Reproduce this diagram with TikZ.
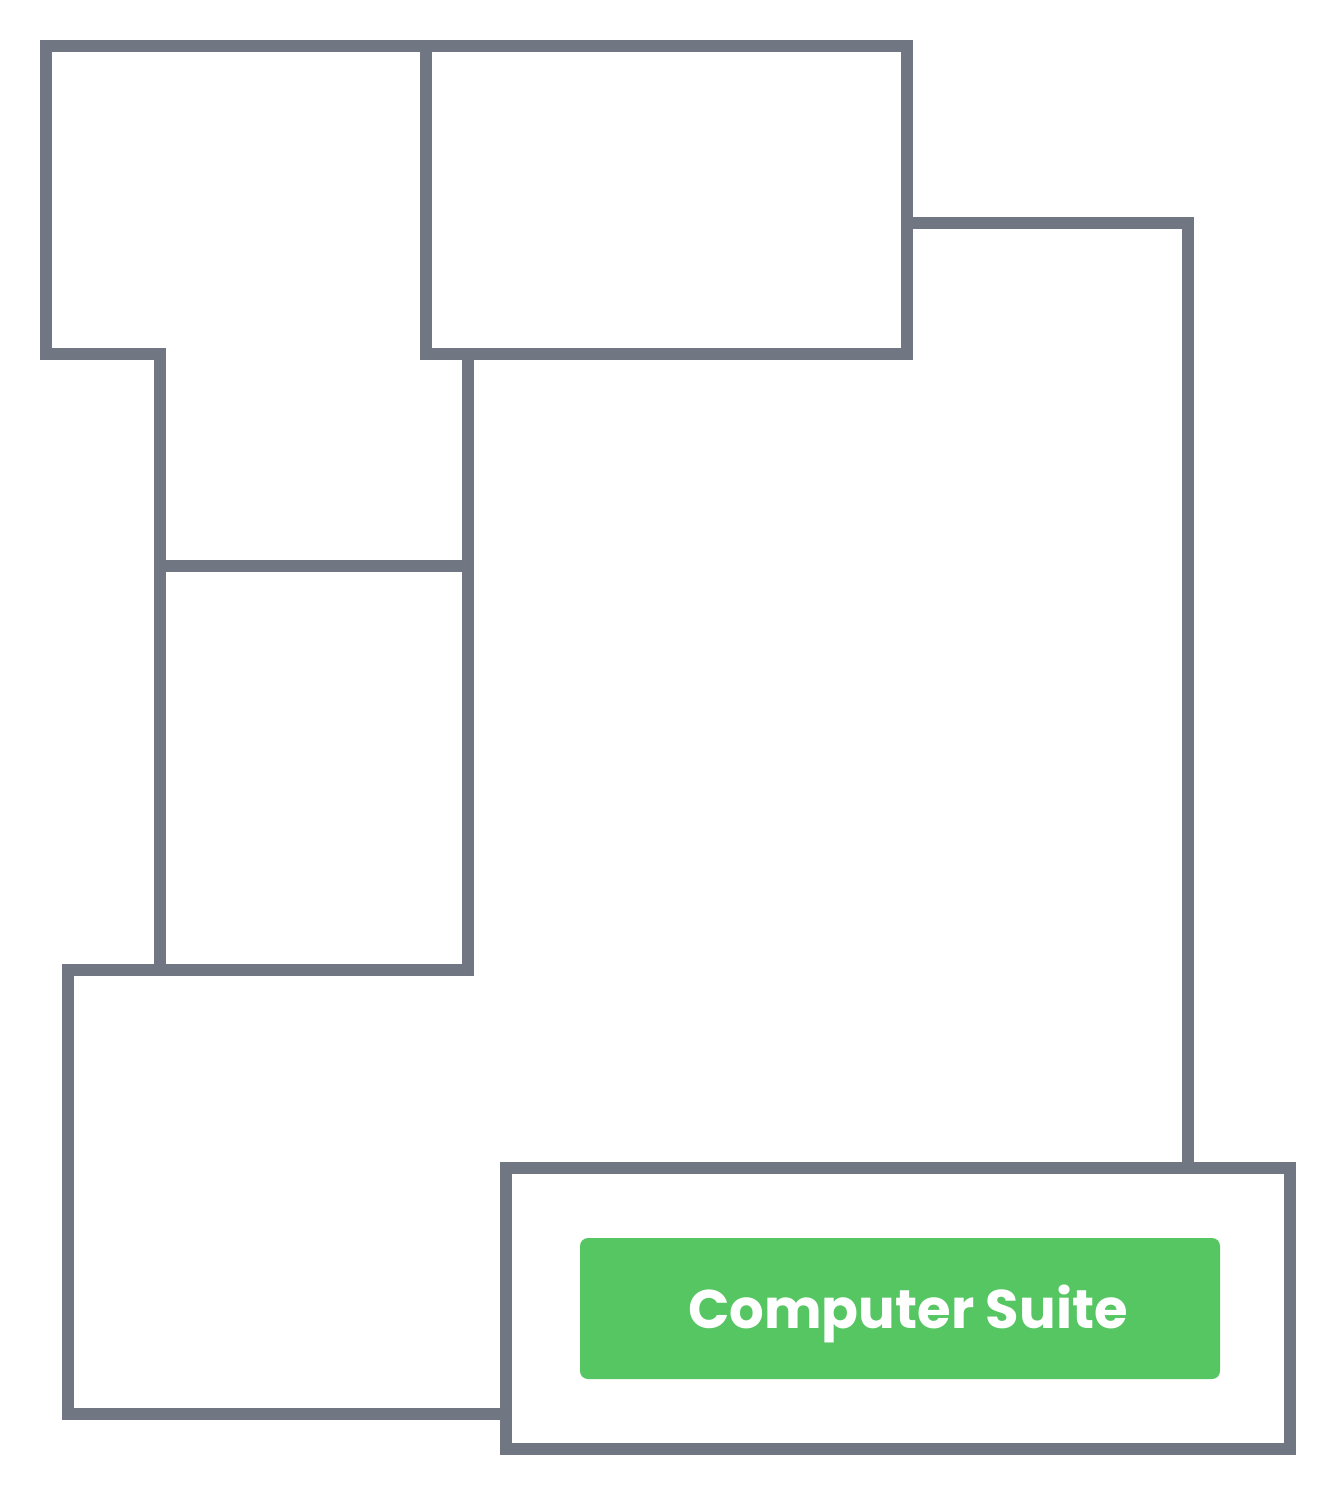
\documentclass[tikz,border=0pt]{standalone}
\usepackage{fontspec}
\setmainfont{Poppins}
\definecolor{wallgray}{HTML}{707682}
\definecolor{suitegreen}{HTML}{55C662}
\tikzset{
  wall/.style={draw=wallgray, line width=12pt, miter limit=10},
  suite/.style={fill=suitegreen, rounded corners=8pt, minimum width=640pt, minimum height=141pt, inner sep=0pt},
  suitelabel/.style={text=white, inner sep=0pt, font=\fontsize{54.4}{54.4}\selectfont\bfseries}
}
\begin{document}
\begin{tikzpicture}[x=1pt,y=-1pt]
\useasboundingbox (0,0) rectangle (1336,1496);
\draw[wall] (426,353.5) -- (426,46) -- (907,46) -- (907,353.5) -- cycle;
\draw[wall] (426,46) -- (46,46) -- (46,353.5) -- (160,353.5) -- (160,969.5);
\draw[wall] (160,566) -- (468,566);
\draw[wall] (468,353.5) -- (468,969.5) -- (68,969.5) -- (68,1414) -- (506,1414);
\draw[wall] (907,223) -- (1188,223) -- (1188,1168);
\draw[wall] (506,1168) -- (1290,1168) -- (1290,1449) -- (506,1449) -- cycle;
\node[suite] (computer) at (900,1308.5) {};
\node[suitelabel] (computerlabel) at (908,1314) {Computer Suite};
\end{tikzpicture}
\end{document}
